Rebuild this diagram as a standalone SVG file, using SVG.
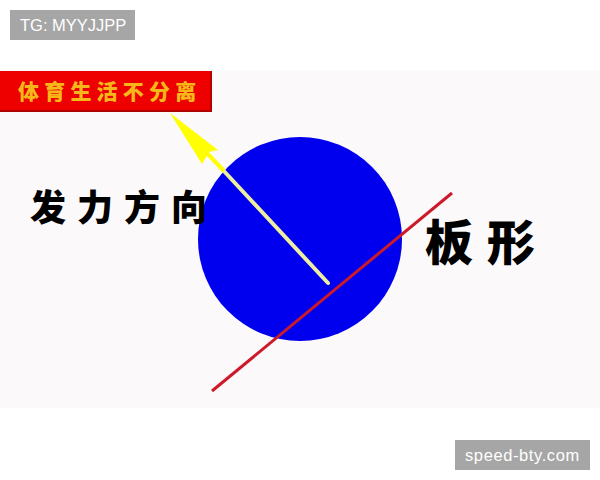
<svg xmlns="http://www.w3.org/2000/svg" width="600" height="480" viewBox="0 0 600 480">
<style>
.cjk{font-family:"Noto Sans CJK SC","Noto Sans CJK JP",sans-serif;font-weight:900}
.tag{font-family:"Liberation Sans",Arial,sans-serif;font-size:16.5px;fill:#ffffff}
</style>
<rect x="0" y="0" width="600" height="480" fill="#ffffff"/>
<rect x="0" y="70" width="600" height="338" fill="#fcf9fa"/>
<g id="tg-label">
<rect x="10" y="10" width="125" height="30" fill="#a6a6a6"/>
<text class="tag" x="20" y="31">TG: MYYJJPP</text>
</g>
<g id="ball">
<circle cx="300" cy="239" r="102" fill="#0000ee"/>
</g>
<g id="connectors">
<line x1="328" y1="283" x2="222" y2="169" stroke="#eeeea0" stroke-width="4" stroke-linecap="round"/>
<line x1="224" y1="171" x2="205" y2="151" stroke="#ffff00" stroke-width="4"/>
<polygon points="170,113 218,150 209,152 202,164" fill="#ffff00"/>
<line x1="212" y1="391" x2="452" y2="193" stroke="#cc1a2a" stroke-width="3"/>
</g>
<g id="banner">
<rect x="0" y="71" width="212" height="41" fill="#ee0000"/>
<rect x="0" y="110" width="212" height="2" fill="#b00000"/>
<rect x="210" y="71" width="2" height="41" fill="#b00000"/>
<text class="cjk" x="18" y="99" font-size="21" fill="#f6b818" letter-spacing="5.2">体育生活不分离</text>
</g>
<g id="label-force">
<text class="cjk" x="30" y="221" font-size="36" fill="#000000" letter-spacing="11">发力方向</text>
</g>
<g id="label-board">
<text class="cjk" x="425" y="260" font-size="48" fill="#000000" letter-spacing="14">板形</text>
</g>
<g id="site-label">
<rect x="455" y="440" width="135" height="30" fill="#a6a6a6"/>
<text class="tag" x="465" y="461" letter-spacing="0.6">speed-bty.com</text>
</g>
</svg>
